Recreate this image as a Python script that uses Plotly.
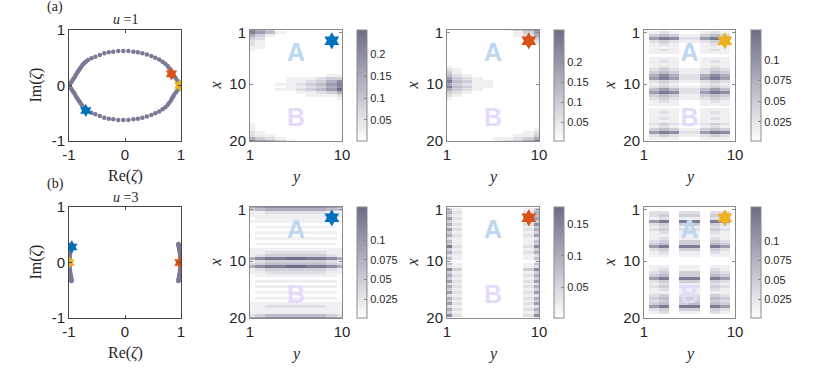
import numpy as np
import plotly.graph_objects as go

W, H = 830, 374

# ---- eigenvalues zeta in the complex plane ----
u1_re = [-1.0, -0.98, -0.96, -0.94, -0.92, -0.90, -0.88, -0.86, -0.84, -0.82, -0.80, -0.78, -0.76, -0.73,
         -0.70, -0.66, -0.60, -0.53, -0.45, -0.37, -0.29, -0.21, -0.12, -0.03, 0.06, 0.15, 0.23, 0.31,
         0.39, 0.47, 0.54, 0.61, 0.67, 0.72, 0.76, 0.79, 0.82, 0.84, 0.86, 0.88, 0.91, 0.94, 0.97, 1.0,
         -0.98, -0.96, -0.94, -0.92, -0.90, -0.88, -0.86, -0.84, -0.82, -0.80, -0.78, -0.76, -0.73,
         -0.70, -0.66, -0.60, -0.53, -0.45, -0.37, -0.29, -0.21, -0.12, -0.03, 0.06, 0.15, 0.23, 0.31,
         0.39, 0.47, 0.54, 0.61, 0.67, 0.72, 0.76, 0.79, 0.82, 0.84, 0.86, 0.88, 0.91, 0.94, 0.97]
u1_im = [0.0, 0.03, 0.06, 0.09, 0.12, 0.15, 0.19, 0.22, 0.25, 0.28, 0.31, 0.34, 0.37, 0.40,
         0.43, 0.46, 0.49, 0.52, 0.55, 0.58, 0.60, 0.61, 0.62, 0.62, 0.62, 0.61, 0.60, 0.58,
         0.56, 0.53, 0.50, 0.47, 0.43, 0.39, 0.35, 0.31, 0.27, 0.23, 0.20, 0.16, 0.12, 0.08, 0.04, 0.0,
         -0.03, -0.06, -0.09, -0.12, -0.15, -0.19, -0.22, -0.25, -0.28, -0.31, -0.34, -0.37, -0.40,
         -0.43, -0.46, -0.49, -0.52, -0.55, -0.58, -0.60, -0.61, -0.62, -0.62, -0.62, -0.61, -0.60, -0.58,
         -0.56, -0.53, -0.50, -0.47, -0.43, -0.39, -0.35, -0.31, -0.27, -0.23, -0.20, -0.16, -0.12, -0.08, -0.04]

u3_re = [-0.955, -0.962, -0.968, -0.974, -0.979, -0.984, -0.988, -0.992, -0.995, -0.998, -1.0, -1.0,
         -1.0, -0.998, -0.995, -0.992, -0.988, -0.984, -0.979, -0.974, -0.968, -0.962, -0.955,
         0.955, 0.962, 0.968, 0.974, 0.979, 0.984, 0.988, 0.992, 0.995, 0.998, 1.0, 1.0,
         1.0, 0.998, 0.995, 0.992, 0.988, 0.984, 0.979, 0.974, 0.968, 0.962, 0.955]
u3_im = [0.33, 0.30, 0.27, 0.24, 0.21, 0.18, 0.15, 0.12, 0.09, 0.06, 0.03, 0.0,
         -0.03, -0.06, -0.09, -0.12, -0.15, -0.18, -0.21, -0.24, -0.27, -0.30, -0.33,
         0.33, 0.30, 0.27, 0.24, 0.21, 0.18, 0.15, 0.12, 0.09, 0.06, 0.03, 0.0,
         -0.03, -0.06, -0.09, -0.12, -0.15, -0.18, -0.21, -0.24, -0.27, -0.30, -0.33]

# highlighted eigenstates: blue, orange, yellow
star_colors = ['#0072BD', '#D95319', '#EDB120']
u1_star_re = [-0.70, 0.83, 0.98]
u1_star_im = [-0.45, 0.21, 0.0]
u3_star_re = [-0.95, 0.98, -1.0]
u3_star_im = [0.28, 0.0, 0.0]

# ---- |psi|^2 on the lattice: 40 rows (x = 0.5 ... 20), 10 columns (y = 1 ... 10) ----
# each digit is a level 0..9 of the panel's colour range
dens_a_blue = [
    "7530000000", "8641000000", "5310000000", "3200000000", "2100000000", "2100000000",
    "1100000000", "1000000000", "0000000000", "0000000000", "0000000000", "0000000000",
    "0000000000", "0000000000", "0000000000", "0000000000", "0000000011", "0000111233",
    "0000112357", "0001123468", "0000112357", "0001123469", "0000011235", "0000001112",
    "0000000001", "0000000000", "0000000000", "0000000000", "0000000000", "0000000000",
    "0000000000", "0000000000", "0000000000", "1000000000", "1000000000", "1000000000",
    "2100000000", "2110000000", "5321000000", "8653100000"]
dens_a_orange = [
    "0000001357", "0000000136", "0000000125", "0000000013", "0000000002", "0000000001",
    "0000000000", "0000000000", "0000000000", "0000000000", "0000000000", "0000000000",
    "0000000000", "1000000000", "2100000000", "3100000000", "4210000000", "6321000000",
    "8431100000", "5321100000", "8431100000", "5321000000", "3210000000", "2100000000",
    "1000000000", "0000000000", "0000000000", "0000000000", "0000000000", "0000000000",
    "0000000000", "0000000000", "0000000000", "0000000000", "0000000000", "0000000001",
    "0000000012", "0000000113", "0000011235", "0000012358"]
dens_a_yellow = [
    "0000000000", "0121001210", "0343113430", "0687226870", "0232112320", "0121001210",
    "0111001110", "0121001210", "0111001110", "0000000000", "0111001110", "0121001210",
    "0111001110", "0121001210", "0232112320", "0343112430", "0575225750", "0686226860",
    "0232112320", "0121001210", "0232112320", "0464224640", "0687226870", "0343113430",
    "0232112320", "0121001210", "0111001110", "0000000000", "0111001110", "0121001210",
    "0111001110", "0121001210", "0111001110", "0232112320", "0121001210", "0343113430",
    "0687226870", "0232112320", "0111001110", "0000000000"]
dens_b_blue = [
    "5677777765", "3455555543", "1122222211", "1111111111", "0111111110", "1111111111",
    "0000000000", "0111111110", "0000000000", "0111111110", "0000000000", "0111111110",
    "0000000000", "0111111110", "0000000000", "1111111111", "1122222211", "1233333321",
    "5788998875", "1233333321", "2344444432", "5788998875", "1233333321", "1122222211",
    "0111111110", "0000000000", "0111111110", "0000000000", "0111111110", "0000000000",
    "0111111110", "0000000000", "0111111110", "0000000000", "1111111111", "1122222211",
    "1111111111", "1111111111", "2344444432", "5677777765"]
dens_b_orange = [
    "0000000000", "3100000013", "5200000025", "3100000014", "6200000026", "3100000013",
    "5200000027", "2100000013", "6200000025", "3100000013", "5200000026", "2100000012",
    "4100000014", "3100000013", "8200000027", "3100000013", "5200000025", "2100000012",
    "4100000014", "1000000001", "4100000014", "2100000012", "7300000037", "3100000013",
    "5200000025", "3100000013", "6200000026", "2100000012", "5200000025", "3100000013",
    "6200000026", "2100000012", "5200000025", "3100000013", "6200000026", "2100000012",
    "5200000025", "3100000013", "7200000027", "1000000001"]
dens_b_yellow = [
    "0000000000", "0000000000", "0220220220", "0230330320", "0120110210", "0680880860",
    "0230330320", "0120110210", "0230220320", "0120110210", "0110110110", "0120110210",
    "0230330320", "0340330430", "0680880860", "0230330320", "0120110210", "0110110110",
    "0000000000", "0000000000", "0000000000", "0110110110", "0120110210", "0230330320",
    "0340330430", "0680880860", "0230330320", "0120110210", "0230220320", "0120110210",
    "0110110110", "0230220320", "0340330430", "0230330320", "0340340430", "0680880860",
    "0230330320", "0120110210", "0000000000", "0000000000"]

# colour ranges and colourbar ticks for each density panel
crange_a = [[0.002, 0.255], [0.003, 0.28], [0.0015, 0.1365]]
crange_b = [[0.001, 0.142], [0.002, 0.177], [0.001, 0.144]]
cticks_a = [[0.05, 0.1, 0.15, 0.2], [0.05, 0.1, 0.15, 0.2], [0.025, 0.05, 0.075, 0.1]]
cticks_b = [[0.025, 0.05, 0.075, 0.1], [0.05, 0.1, 0.15], [0.025, 0.05, 0.075, 0.1]]

site_y = np.arange(1, 11)
site_x = np.arange(0.5, 20.01, 0.5)

dot_color = 'rgb(122,122,150)'
heat_scale = [[0, '#ffffff'], [1, '#6c6c88']]
frame_col = '#8a8a8a'
serif = 'Liberation Serif'
sans = 'Liberation Sans'

# pixel boxes (left, right, top, bottom)
rows_px = [(30, 141), (207, 318)]
plane_px = (69, 181)
heat_px = [(250, 342), (447, 539), (644, 735)]
cbar_px = [357, 554, 751]


def xdom(l, r):
    return [l / W, r / W]


def ydom(t, b):
    return [1 - b / H, 1 - t / H]


def label(text, px, py, size=16, angle=0):
    return dict(text=text, x=px / W, y=1 - py / H, xref='paper', yref='paper', showarrow=False,
                xanchor='center', yanchor='middle', textangle=angle,
                font=dict(family=serif, size=size, color='#262626'))


fig = go.Figure()
layout = dict(width=W, height=H, margin=dict(l=0, r=0, t=0, b=0, autoexpand=False),
              paper_bgcolor='white', plot_bgcolor='white', showlegend=False,
              font=dict(family=sans, size=15, color='#262626'))
annotations = []

planes = [(u1_re, u1_im, u1_star_re, u1_star_im, '1'), (u3_re, u3_im, u3_star_re, u3_star_im, '3')]
dens = [[dens_a_blue, dens_a_orange, dens_a_yellow], [dens_b_blue, dens_b_orange, dens_b_yellow]]
cranges = [crange_a, crange_b]
cticks = [cticks_a, cticks_b]

for r in range(2):
    top, bot = rows_px[r]
    mid = (top + bot) / 2
    base = r * 4
    # complex plane panel
    ax = base + 1
    re, im, sre, sim, uval = planes[r]
    fig.add_trace(go.Scatter(x=re, y=im, mode='markers', xaxis='x%d' % ax, yaxis='y%d' % ax,
                             marker=dict(size=4.5 if r == 0 else 5, color=dot_color), hoverinfo='skip'))
    for k in range(3):
        fig.add_trace(go.Scatter(x=[sre[k]], y=[sim[k]], mode='markers', xaxis='x%d' % ax, yaxis='y%d' % ax,
                                 marker=dict(symbol='hexagram', size=10, color=star_colors[k],
                                             line=dict(width=0))))
    for name, dom in (('xaxis', xdom(*plane_px)), ('yaxis', ydom(top, bot))):
        layout['%s%d' % (name, ax)] = dict(domain=dom, anchor=('y%d' if name == 'xaxis' else 'x%d') % ax,
                                           range=[-1, 1], tickvals=[-1, 0, 1], ticktext=['-1', '0', '1'],
                                           showgrid=False, zeroline=False, showline=True, linecolor='#444',
                                           linewidth=1, mirror='allticks', ticks='inside', ticklen=3,
                                           tickcolor='#444')
    cx = (plane_px[0] + plane_px[1]) / 2
    annotations.append(label('<i>u</i> =' + uval, cx, top - 10, size=14))
    annotations.append(label('Re(<i>ζ</i>)', cx, bot + 35))
    annotations.append(label('Im(<i>ζ</i>)', 35, mid, angle=-90))
    annotations.append(label('(a)' if r == 0 else '(b)', 55, top - 23, size=14))

    # density panels
    for k in range(3):
        ax = base + 2 + k
        lo, hi = cranges[r][k]
        z = [[hi * int(ch) / 9 for ch in row] for row in dens[r][k]]
        left, right = heat_px[k]
        fig.add_trace(go.Heatmap(
            z=z, x=site_y, y=site_x, xaxis='x%d' % ax, yaxis='y%d' % ax, zmin=lo, zmax=hi,
            colorscale=heat_scale, zsmooth=False, hoverinfo='skip',
            colorbar=dict(x=cbar_px[k] / W, xanchor='left', y=1 - mid / H, yanchor='middle',
                          len=bot - top, lenmode='pixels', thickness=10, thicknessmode='pixels',
                          outlinecolor=frame_col, outlinewidth=1, xpad=0, ypad=0,
                          tickvals=cticks[r][k], ticktext=[('%g' % t) for t in cticks[r][k]],
                          ticks='inside', ticklen=3, tickcolor=frame_col,
                          tickfont=dict(family=sans, size=11, color='#262626'))))
        fig.add_trace(go.Scatter(x=[9.0], y=[2.4], mode='markers', xaxis='x%d' % ax, yaxis='y%d' % ax,
                                 marker=dict(symbol='hexagram', size=13, color=star_colors[k],
                                             line=dict(width=0))))
        fig.add_trace(go.Scatter(x=[5.5, 5.5], y=[4.9, 16.3], mode='text', text=['A', 'B'],
                                 xaxis='x%d' % ax, yaxis='y%d' % ax,
                                 textfont=dict(family=sans, size=25, color=['#bcd7f0', '#e5dafc'],
                                               weight='bold')))
        layout['xaxis%d' % ax] = dict(domain=xdom(left, right), anchor='y%d' % ax, range=[1, 10],
                                      tickvals=[1, 10], showgrid=False, zeroline=False, showline=True,
                                      linecolor=frame_col, linewidth=1, mirror='allticks', ticks='inside',
                                      ticklen=3, tickcolor=frame_col)
        layout['yaxis%d' % ax] = dict(domain=ydom(top, bot), anchor='x%d' % ax, range=[20, 0.5],
                                      tickvals=[1, 10, 20], showgrid=False, zeroline=False, showline=True,
                                      linecolor=frame_col, linewidth=1, mirror='allticks', ticks='inside',
                                      ticklen=3, tickcolor=frame_col)
        annotations.append(label('<i>y</i>', (left + right) / 2, bot + 36))
        annotations.append(label('<i>x</i>', left - 35, mid, angle=-90))

layout['annotations'] = annotations
fig.update_layout(layout)
# drop the page's default body margin so the figure sits at the window's corner
fig.write_html("out.html", config={'displayModeBar': False},
               post_script="document.body.style.margin='0';")
